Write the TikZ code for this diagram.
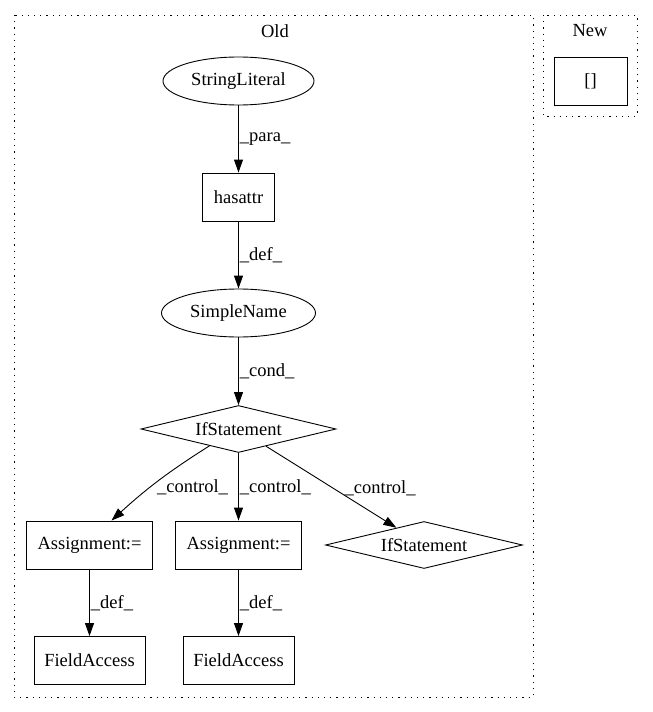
\documentclass[tikz,border=0pt]{standalone}
\usepackage{fontspec}
\setmainfont{Liberation Serif}
\usetikzlibrary{shapes.geometric,arrows.meta}

\tikzset{
  box/.style={draw, rectangle, minimum height=48, inner sep=0pt},
  oval/.style={draw, ellipse, minimum height=48, inner sep=0pt},
  cond/.style={draw, diamond, aspect=4, minimum width=195, minimum height=47, inner sep=0pt},
  lbl/.style={inner sep=1pt, anchor=west},
  arr/.style={-{Triangle[length=13,width=9]}},
  cluster/.style={line width=.9, dash pattern=on 1.2pt off 5pt}
}

\begin{document}
\begin{tikzpicture}[x=1pt, y=-1pt, font=\fontsize{18.5}{21}\selectfont, line width=.9]
\useasboundingbox (0,0) rectangle (653,712);

\draw[cluster] (14,15) rectangle (533,697);
\node (old) at (275,31) {Old};
\draw[cluster] (543,15) rectangle (637,116);
\node (new) at (590,31) {New};

\node[oval, minimum width=151] (sl) at (238.5,81) {StringLiteral};
\node[box, minimum width=72] (ha) at (238.5,197) {hasattr};
\node[oval, minimum width=154] (sn) at (238.5,313) {SimpleName};
\node[cond] (if1) at (238.5,429) {IfStatement};
\node[box, minimum width=126] (as1) at (89.5,545) {Assignment:=};
\node[box, minimum width=126] (as2) at (238.5,545) {Assignment:=};
\node[cond, minimum width=197] (if2) at (424,545) {IfStatement};
\node[box, minimum width=111] (fa1) at (89.5,660.5) {FieldAccess};
\node[box, minimum width=111] (fa2) at (238.5,660.5) {FieldAccess};
\node[box, minimum width=73] (lst) at (590.5,81) {[]};

\draw[arr] (sl) -- node[lbl]{\_para\_} (ha);
\draw[arr] (ha) -- node[lbl]{\_def\_} (sn);
\draw[arr] (sn) -- node[lbl]{\_cond\_} (if1);
\draw[arr] (if1.south west) ++(20,4.8) to[bend right=5] node[lbl, pos=.5, xshift=-3, yshift=-7]{\_control\_} ([xshift=22]as1.north);
\draw[arr] (if1) -- node[lbl, yshift=-1]{\_control\_} (as2);
\draw[arr] (if1) -- node[lbl, xshift=12, yshift=-1]{\_control\_} (if2);
\draw[arr] (as1) -- node[lbl]{\_def\_} (fa1);
\draw[arr] (as2) -- node[lbl]{\_def\_} (fa2);
\end{tikzpicture}
\end{document}
